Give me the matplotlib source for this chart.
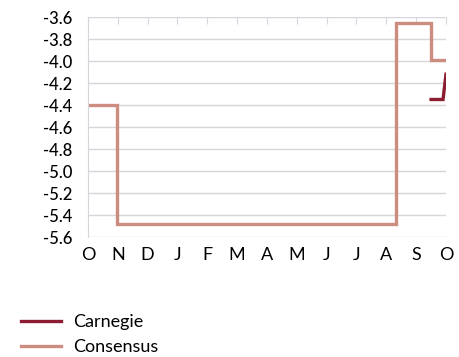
import matplotlib
matplotlib.use("Agg")
import matplotlib.pyplot as plt
from matplotlib.lines import Line2D

months = ["O", "N", "D", "J", "F", "M", "A", "M", "J", "J", "A", "S", "O"]
yticks = [-3.6, -3.8, -4.0, -4.2, -4.4, -4.6, -4.8, -5.0, -5.2, -5.4, -5.6]

# x in months since October (0 = Oct, 12 = Oct next year)
consensus_x = [0, 0.97, 10.33, 11.5, 12.0]
consensus_y = [-4.40, -5.48, -3.65, -3.99, -3.99]
carnegie_x = [11.5, 11.9, 12.0]
carnegie_y = [-4.35, -4.35, -4.12]

c_cons = "#CC8C80"
c_carn = "#8C1C32"

plt.rcParams['font.family'] = ['Lato', 'DejaVu Sans']

fig = plt.figure(figsize=(4.6, 3.57), dpi=100)
ax = fig.add_axes([88/460, 1-237/357, (446-88)/460, (237-17)/357])

ax.plot(consensus_x, consensus_y, drawstyle='steps-post', color=c_cons, lw=2.4, solid_joinstyle='miter')
ax.plot(carnegie_x, carnegie_y, color=c_carn, lw=2.4, solid_joinstyle='miter')

ax.set_xlim(0, 12)
ax.set_ylim(-5.6, -3.6)
ax.set_yticks(yticks)
ax.set_yticklabels([f"{v:.1f}" for v in yticks], fontsize=12, fontweight='medium')
ax.grid(axis='y', color='#D5D5DB', lw=1)
ax.set_axisbelow(True)
for s in ['top', 'right', 'bottom']:
    ax.spines[s].set_visible(False)
ax.spines['left'].set_color('#D5D5DB')
ax.tick_params(axis='y', length=0, pad=11)

ax.set_xticks(range(13))
ax.set_xticklabels([])
ax.tick_params(axis='x', which='major', top=True, bottom=False, direction='in', length=5, color='#D5D5DB')
for i, m in enumerate(months):
    ax.text(i, -5.76, m, ha='center', va='center', fontsize=13)

handles = [Line2D([], [], color=c_carn, lw=2.4), Line2D([], [], color=c_cons, lw=2.4)]
fig.legend(handles, ["Carnegie", "Consensus"], loc='lower left', bbox_to_anchor=(0.01, -0.04),
           frameon=False, fontsize=13, handlelength=2.2, handletextpad=0.7, labelspacing=0.5)

fig.savefig("out.png", dpi=100)
